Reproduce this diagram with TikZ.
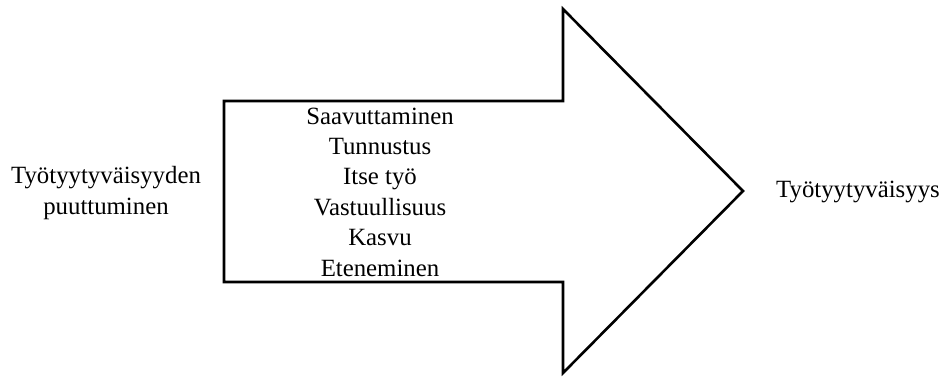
\documentclass[tikz,border=0pt]{standalone}
\usepackage{fontspec}
\setmainfont{Liberation Serif}
\begin{document}
\begin{tikzpicture}[x=0.5pt, y=-0.5pt, line join=miter, font=\fontsize{12.4}{15.2}\selectfont]
    \useasboundingbox (0,0) rectangle (944,376);

    % the big arrow
    \draw[line width=1.3pt] (224,101) -- (563,101) -- (563,9) -- (743,191)
          -- (563,373) -- (563,282) -- (224,282) -- cycle;

    \node[align=center] (factors) at (380,192)
        {Saavuttaminen\\Tunnustus\\Itse työ\\Vastuullisuus\\Kasvu\\Eteneminen};
    \node[align=center] (lack) at (106,193) {Työtyytyväisyyden\\puuttuminen};
    \node (satisfaction) at (858,192) {Työtyytyväisyys};
\end{tikzpicture}
\end{document}
